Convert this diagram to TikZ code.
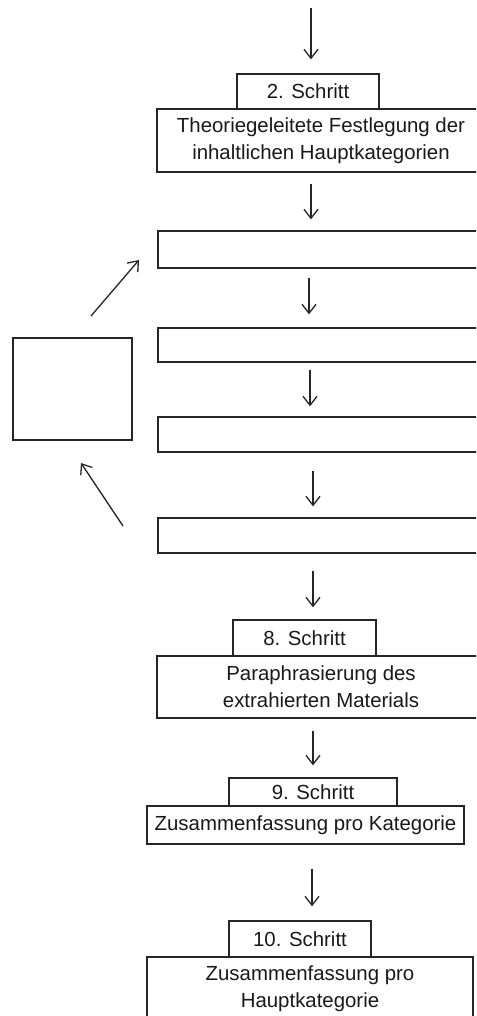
\documentclass[tikz,border=0pt]{standalone}
\usepackage{fontspec}
\setmainfont{Liberation Sans}
\usetikzlibrary{arrows.meta}
\begin{document}
\begin{tikzpicture}[x=1pt,y=-1pt,
  box/.style={draw=black!85,line width=1.3pt,inner sep=0pt,align=center,
    font=\fontsize{20.4}{26.7}\selectfont,text=black!90},
  arr/.style={draw=black!85,line width=1.3pt,-{Straight Barb[length=9pt,width=14pt]}},
]
\useasboundingbox (0,0) rectangle (476,1016);
\clip (0,0) rectangle (476,1016);
% step 2
\node[box,minimum width=328,minimum height=63] (b2) at (321,140.5)
  {Theoriegeleitete Festlegung der\\inhaltlichen Hauptkategorien};
\node[box,minimum width=142,minimum height=35,fill=white] (s2) at (308,91.5) {2. Schritt};
% empty boxes
\node[box,minimum width=327,minimum height=37] (e1) at (321.5,249.5) {};
\node[box,minimum width=327,minimum height=34] (e2) at (321.5,345) {};
\node[box,minimum width=327,minimum height=35] (e3) at (321.5,434.5) {};
\node[box,minimum width=327,minimum height=35] (e4) at (321.5,535.5) {};
\node[box,minimum width=119,minimum height=102] (sq) at (72.5,389) {};
% step 8
\node[box,minimum width=328,minimum height=62] (b8) at (321,687)
  {Paraphrasierung des\\extrahierten Materials};
\node[box,minimum width=143,minimum height=36] (s8) at (304.5,638) {8. Schritt};
% step 9
\node[box,minimum width=317,minimum height=38] (b9) at (305.5,825)
  {Zusammenfassung pro Kategorie};
\node[box,minimum width=168,minimum height=28] (s9) at (313,792) {9. Schritt};
% step 10
\node[box,minimum width=326,minimum height=63] (b10) at (310,988.5)
  {Zusammenfassung pro\\Hauptkategorie};
\node[box,minimum width=142,minimum height=36] (s10) at (300,939) {10. Schritt};
% free ends
\coordinate (top) at (311,8);
\coordinate (d1s) at (91,316);
\coordinate (d1e) at (139,260);
\coordinate (d2s) at (123,526);
\coordinate (d2e) at (81,463);
% arrows
\draw[arr,shorten >=14pt] (top) -- ([xshift=3pt]s2.north);
\draw[arr,shorten <=11pt,shorten >=11pt] ([xshift=-10pt]b2.south) -- ([xshift=-10.5pt]e1.north);
\draw[arr,shorten <=9pt,shorten >=13pt] ([xshift=-12.5pt]e1.south) -- ([xshift=-12.5pt]e2.north);
\draw[arr,shorten <=7pt,shorten >=10pt] ([xshift=-11.5pt]e2.south) -- ([xshift=-11.5pt]e3.north);
\draw[arr,shorten <=18pt,shorten >=11pt] ([xshift=-8.5pt]e3.south) -- ([xshift=-8.5pt]e4.north);
\draw[arr,shorten <=17pt,shorten >=12pt] ([xshift=-8.5pt]e4.south) -- ([xshift=8.5pt]s8.north);
\draw[arr,shorten <=12pt,shorten >=12pt] ([xshift=-8pt]b8.south) -- (s9.north);
\draw[arr,shorten <=24pt,shorten >=14pt] ([xshift=6.5pt]b9.south) -- ([xshift=12pt]s10.north);
\draw[arr] (d1s) -- (d1e);
\draw[arr] (d2s) -- (d2e);
\end{tikzpicture}
\end{document}
